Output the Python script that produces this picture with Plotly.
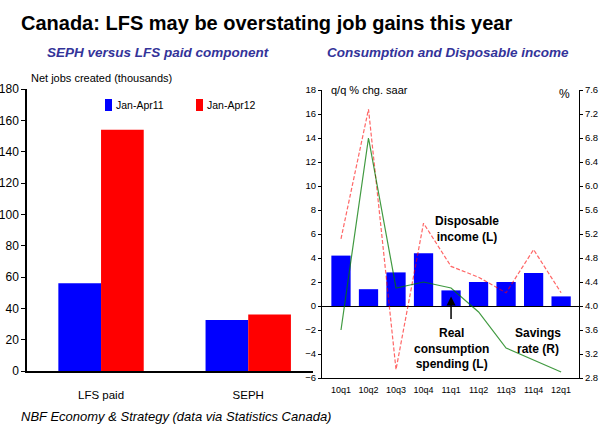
import plotly.graph_objects as go

W, H = 609, 433

# ---- Left chart data ----
job_categories = ["LFS paid", "SEPH"]
jobs_2011 = [56, 32.5]
jobs_2012 = [154, 36]
job_series_names = ["Jan-Apr11", "Jan-Apr12"]

# ---- Right chart data ----
quarters = ["10q1", "10q2", "10q3", "10q4", "11q1", "11q2", "11q3", "11q4", "12q1"]
consumption = [4.2, 1.4, 2.8, 4.4, 1.3, 2.0, 2.0, 2.75, 0.8]
disposable_income = [5.6, 16.4, -5.3, 6.9, 3.3, 2.4, 1.1, 4.7, 1.1]
savings_rate = [3.6, 6.8, 4.3, 4.4, 4.3, 3.9, 3.3, 3.1, 2.9]

BLUE = "#0000ff"
RED = "#ff0000"


def px_x(x):
    return x / W


def px_y(y):
    return 1 - y / H


SANS = "Liberation Sans, Arial, sans-serif"

fig = go.Figure()

# Left chart bars
fig.add_trace(go.Bar(x=job_categories, y=jobs_2011, name=job_series_names[0],
                     marker=dict(color=BLUE, line=dict(width=0)),
                     width=0.29, offset=-0.29, xaxis="x", yaxis="y", showlegend=False))
fig.add_trace(go.Bar(x=job_categories, y=jobs_2012, name=job_series_names[1],
                     marker=dict(color=RED, line=dict(width=0)),
                     width=0.29, offset=0.0, xaxis="x", yaxis="y", showlegend=False))

# Right chart
fig.add_trace(go.Bar(x=quarters, y=consumption, name="Real consumption spending (L)",
                     marker=dict(color=BLUE, line=dict(width=0)),
                     width=0.7, offset=-0.35, xaxis="x2", yaxis="y2", showlegend=False))
fig.add_trace(go.Scatter(x=quarters, y=disposable_income, mode="lines",
                         name="Disposable income (L)",
                         line=dict(color="rgba(255,0,0,0.6)", width=1.2, dash="4px,2px"),
                         xaxis="x2", yaxis="y2", showlegend=False))
fig.add_trace(go.Scatter(x=quarters, y=savings_rate, mode="lines",
                         name="Savings rate (R)",
                         line=dict(color="rgba(0,120,0,0.75)", width=1.2),
                         xaxis="x2", yaxis="y3", showlegend=False))

ann = []
shapes = []
# Titles
ann.append(dict(text="<b>Canada: LFS may be overstating job gains this year</b>",
                x=px_x(19), y=px_y(23), xref="paper", yref="paper",
                xanchor="left", yanchor="middle", showarrow=False,
                font=dict(family=SANS, size=20, color="black")))
ann.append(dict(text="<b><i>SEPH versus LFS paid component</i></b>",
                x=px_x(158), y=px_y(53), xref="paper", yref="paper",
                xanchor="center", yanchor="middle", showarrow=False,
                font=dict(family=SANS, size=13.5, color="#333399")))
ann.append(dict(text="<b><i>Consumption and Disposable income</i></b>",
                x=px_x(448), y=px_y(53), xref="paper", yref="paper",
                xanchor="center", yanchor="middle", showarrow=False,
                font=dict(family=SANS, size=13.5, color="#333399")))
ann.append(dict(text="<i>NBF Economy &amp; Strategy (data via Statistics Canada)</i>",
                x=px_x(19), y=px_y(416), xref="paper", yref="paper",
                xanchor="left", yanchor="middle", showarrow=False,
                font=dict(family=SANS, size=13, color="black")))
# Axis titles
ann.append(dict(text="Net jobs created (thousands)",
                x=px_x(29), y=px_y(78), xref="paper", yref="paper",
                xanchor="left", yanchor="middle", showarrow=False,
                font=dict(family=SANS, size=11, color="black")))
ann.append(dict(text="q/q % chg. saar",
                x=px_x(329), y=px_y(90), xref="paper", yref="paper",
                xanchor="left", yanchor="middle", showarrow=False,
                font=dict(family=SANS, size=11, color="black")))
ann.append(dict(text="%",
                x=px_x(572), y=px_y(94), xref="paper", yref="paper",
                xanchor="right", yanchor="middle", showarrow=False,
                font=dict(family=SANS, size=12, color="black")))
# Manual legend for the left chart
legend_items = [(job_series_names[0], BLUE, 105), (job_series_names[1], RED, 196)]
for label, color, x0 in legend_items:
    shapes.append(dict(type="rect", xref="paper", yref="paper",
                       x0=px_x(x0), x1=px_x(x0 + 7), y0=px_y(111), y1=px_y(99),
                       fillcolor=color, line=dict(width=0)))
    ann.append(dict(text=label, x=px_x(x0 + 9), y=px_y(105), xref="paper", yref="paper",
                    xanchor="left", yanchor="middle", showarrow=False,
                    font=dict(family=SANS, size=10.5, color="black")))
# Series labels
ann.append(dict(text="<b>Disposable<br>income (L)</b>",
                x=px_x(467), y=px_y(229), xref="paper", yref="paper",
                xanchor="center", yanchor="middle", showarrow=False,
                font=dict(family=SANS, size=12, color="black")))
ann.append(dict(text="<b>Real<br>consumption<br>spending (L)</b>",
                x=px_x(451), y=px_y(348), xref="paper", yref="paper",
                xanchor="center", yanchor="middle", showarrow=False,
                font=dict(family=SANS, size=12, color="black")))
ann.append(dict(text="<b>Savings<br>rate (R)</b>",
                x=px_x(538), y=px_y(341), xref="paper", yref="paper",
                xanchor="center", yanchor="middle", showarrow=False,
                font=dict(family=SANS, size=12, color="black")))
# Arrow to 11q1 bar
ann.append(dict(text="", x="11q1", y=0.8, xref="x2", yref="y2",
                ax="11q1", ay=-1.2, axref="x2", ayref="y2",
                showarrow=True, arrowhead=2, arrowsize=1.2, arrowwidth=1.5,
                arrowcolor="black", standoff=0, startstandoff=0))

fig.update_layout(
    width=W, height=H,
    margin=dict(l=0, r=0, t=0, b=0, autoexpand=False),
    paper_bgcolor="white", plot_bgcolor="rgba(0,0,0,0)",
    barmode="overlay",
    showlegend=False,
    annotations=ann,
    shapes=shapes,
    xaxis=dict(domain=[px_x(27), px_x(313)], anchor="y", type="category", automargin=False,
               range=[-0.503, 1.44], showline=True, linecolor="black", linewidth=1.5,
               ticks="", showgrid=False, zeroline=False,
               tickfont=dict(family=SANS, size=11.5, color="black"), ticklabelstandoff=12),
    yaxis=dict(domain=[px_y(371), px_y(89)], anchor="x", range=[0, 180], dtick=20,
               automargin=False,
               showline=True, linecolor="black", linewidth=1.5, ticks="outside",
               ticklen=4, tickcolor="black", showgrid=False, zeroline=False,
               tickfont=dict(family=SANS, size=12, color="black")),
    xaxis2=dict(domain=[px_x(322), px_x(579)], anchor="y2", type="category", automargin=False,
                range=[-0.69, 8.65], showline=True, linecolor="black", linewidth=1,
                ticks="", showgrid=False, zeroline=False, ticklabelstandoff=3,
                tickfont=dict(family=SANS, size=9, color="black")),
    yaxis2=dict(domain=[px_y(378), px_y(90)], anchor="x2", range=[-6, 18], dtick=2,
                automargin=False,
                showline=True, linecolor="black", linewidth=1, ticks="outside",
                ticklen=3, tickcolor="black", showgrid=False,
                zeroline=True, zerolinecolor="black", zerolinewidth=1.2,
                tickfont=dict(family=SANS, size=9.5, color="black")),
    yaxis3=dict(overlaying="y2", anchor="x2", side="right", range=[2.8, 7.6],
                automargin=False,
                dtick=0.4, tickformat=".1f", showline=True, linecolor="black",
                linewidth=1, ticks="outside", ticklen=3, tickcolor="black",
                showgrid=False, zeroline=False,
                tickfont=dict(family=SANS, size=9.5, color="black")),
)

fig.write_html("out.html",
               config={"displayModeBar": False},
               post_script="document.body.style.margin='0';document.body.style.overflow='hidden';")
